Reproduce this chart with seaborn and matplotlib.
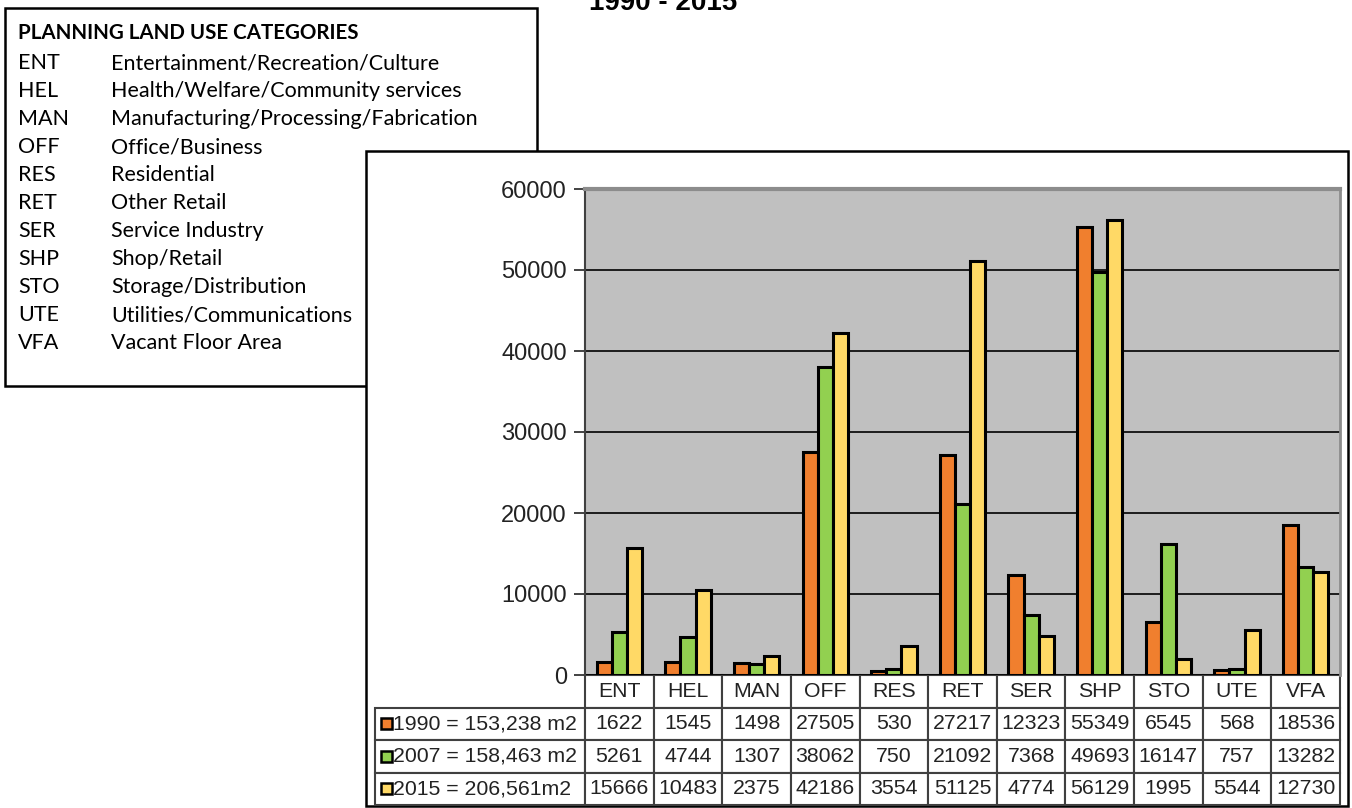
import numpy as np
import pandas as pd
import matplotlib
matplotlib.use("Agg")
import matplotlib.pyplot as plt
import seaborn as sns
from matplotlib.patches import Rectangle

# data
categories = ["ENT", "HEL", "MAN", "OFF", "RES", "RET", "SER", "SHP", "STO", "UTE", "VFA"]
descriptions = ["Entertainment/Recreation/Culture", "Health/Welfare/Community services",
                "Manufacturing/Processing/Fabrication", "Office/Business", "Residential",
                "Other Retail", "Service Industry", "Shop/Retail", "Storage/Distribution",
                "Utilities/Communications", "Vacant Floor Area"]
years = ["1990", "2007", "2015"]
row_labels = ["1990 = 153,238 m2", "2007 = 158,463 m2", "2015 = 206,561m2"]
area_1990 = [1622, 1545, 1498, 27505, 530, 27217, 12323, 55349, 6545, 568, 18536]
area_2007 = [5261, 4744, 1307, 38062, 750, 21092, 7368, 49693, 16147, 757, 13282]
area_2015 = [15666, 10483, 2375, 42186, 3554, 51125, 4774, 56129, 1995, 5544, 12730]
colors = ["#F07F2E", "#92D050", "#FFD966"]

series = [area_1990, area_2007, area_2015]
df = pd.DataFrame({
    "category": categories * 3,
    "year": [y for y in years for _ in categories],
    "area": area_1990 + area_2007 + area_2015,
})

W, H = 1352, 808
def fx(x):
    return x / W
def fy(y):
    return 1 - y / H

fig = plt.figure(figsize=(W / 100, H / 100), dpi=100)
plt.rcParams["font.family"] = ["Liberation Sans", "DejaVu Sans"]

# legend box and chart box (figure-level decorations)
fig.add_artist(Rectangle((fx(5), fy(386)), (537 - 5) / W, (386 - 8) / H, transform=fig.transFigure,
                         facecolor="white", edgecolor="black", lw=1.8, zorder=-3))
fig.add_artist(Rectangle((fx(366), fy(806)), (1348 - 366) / W, (806 - 151) / H, transform=fig.transFigure,
                         facecolor="white", edgecolor="black", lw=1.8, zorder=-1))

fig.text(fx(18), fy(33), "PLANNING LAND USE CATEGORIES", family="Lato", weight="bold",
         fontsize=14.8, va="center", zorder=-2)
for i, (c, d) in enumerate(zip(categories, descriptions)):
    y = 63 + i * 28
    fig.text(fx(18), fy(y), c, family="Lato", fontsize=15.5, va="center", zorder=-2)
    fig.text(fx(111), fy(y), d, family="Lato", fontsize=15.5, va="center", zorder=-2)

# clipped title at the top
fig.text(fx(663), fy(10), "1990 - 2015", fontsize=20, weight="bold", ha="center", va="baseline")

ax = fig.add_axes([fx(585), fy(675), (1340 - 585) / W, (675 - 189) / H])
sns.barplot(data=df, x="category", y="area", hue="year", hue_order=years, palette=colors,
            width=0.66, edgecolor="black", linewidth=2.2, saturation=1, legend=False, ax=ax)
ax.set_facecolor("#C0C0C0")
ax.set_ylim(0, 60000)
ax.set_xlim(-0.5, 10.5)
ax.set_yticks(range(0, 60001, 10000))
ax.yaxis.grid(True, color="black", lw=1.2)
ax.set_axisbelow(True)
ax.tick_params(axis="y", labelsize=17, length=8, width=1.2, colors="#222222", pad=5)
ax.tick_params(axis="x", bottom=False, labelbottom=False)
ax.set_xlabel("")
ax.set_ylabel("")
ax.spines["top"].set_color("#8C8C8C")
ax.spines["top"].set_linewidth(3)
ax.spines["right"].set_color("#8C8C8C")
ax.spines["right"].set_linewidth(2)
ax.spines["left"].set_color("#404040")
ax.spines["left"].set_linewidth(1.5)
ax.spines["bottom"].set_visible(False)

# data table under the chart
cell_text = [[""] + categories] + [[lab] + [str(v) for v in s] for lab, s in zip(row_labels, series)]
label_w = 210.0
col_w = (1340 - 585) / 11
total_w = label_w + 11 * col_w
col_widths = [label_w / total_w] + [col_w / total_w] * 11
tbl = ax.table(cellText=cell_text, colWidths=col_widths, cellLoc="center",
               bbox=[(375 - 585) / 755, -(805 - 675) / 486, (1340 - 375) / 755, 130 / 486])
tbl.auto_set_font_size(False)
tbl.set_fontsize(15.3)
for (r, c), cell in tbl.get_celld().items():
    cell.set_edgecolor("#404040")
    cell.set_linewidth(1.5)
    cell.get_text().set_color("#222222")
    if r == 0 and c == 0:
        cell.visible_edges = ""
    if c == 0 and r > 0:
        cell._loc = "left"
        cell.PAD = 0.085
        cell.get_text().set_ha("left")

# key squares in the row labels
for i, col in enumerate(colors):
    yc = 675 + 32.5 * (i + 1) + 16.25
    fig.add_artist(Rectangle((fx(381), fy(yc + 5.5)), 11 / W, 11 / H, transform=fig.transFigure,
                             facecolor=col, edgecolor="black", lw=1.8, zorder=5))

fig.savefig("out.png", dpi=100)
